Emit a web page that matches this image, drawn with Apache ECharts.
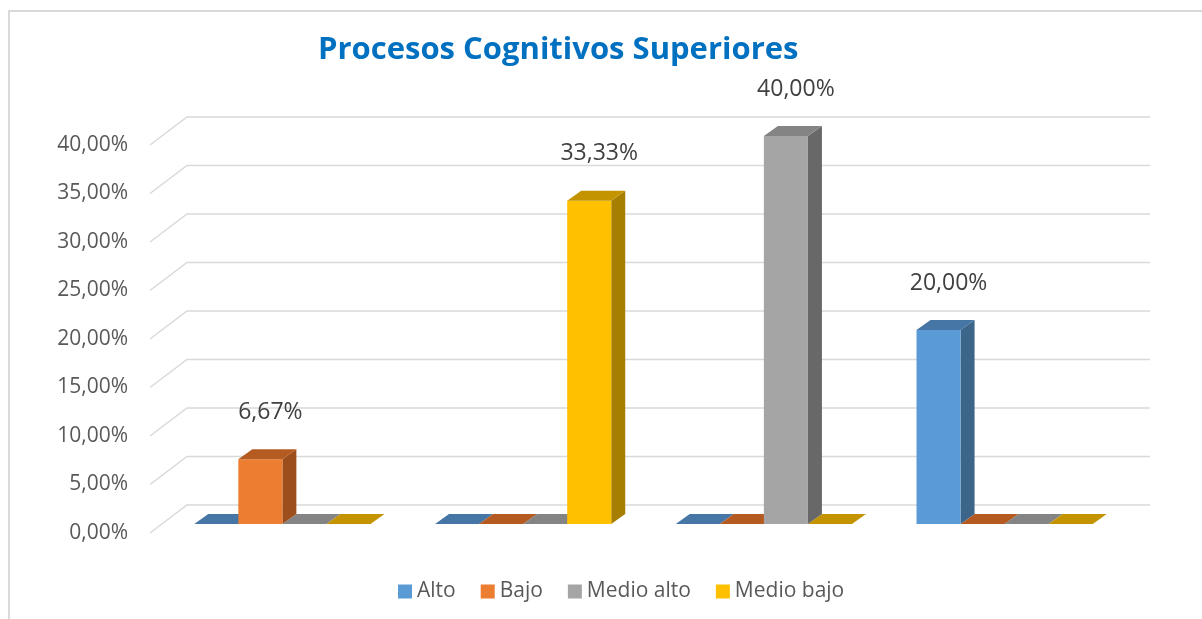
<!DOCTYPE html>
<html>
<head>
<meta charset="utf-8">
<script src="https://cdn.jsdelivr.net/npm/echarts@6/dist/echarts.min.js"></script>
<style>
    html, body { margin: 0; padding: 0; background: #fff; }
    #myChart { width: 1202px; height: 619px; }
</style>
</head>
<body>
<div id="myChart"></div>
<script>
    // datos (en %)
    var categories = ['Grupo 1', 'Grupo 2', 'Grupo 3', 'Grupo 4'];
    var levels = ['Alto', 'Bajo', 'Medio alto', 'Medio bajo'];
    var alto = [0, 0, 0, 20.00];
    var bajo = [6.67, 0, 0, 0];
    var medioAlto = [0, 0, 40.00, 0];
    var medioBajo = [0, 33.33, 0, 0];
    var yTicks = [0, 5, 10, 15, 20, 25, 30, 35, 40];

    var seriesValues = [alto, bajo, medioAlto, medioBajo];
    // frente, lado, tapa
    var palette = [
        ['#5B9BD5', '#3C6589', '#4676A5'],
        ['#ED7D31', '#9C4E1C', '#B55B21'],
        ['#A5A5A5', '#686868', '#848484'],
        ['#FFC000', '#A67F00', '#C49400']
    ];

    var FONT = '"Open Sans", sans-serif';
    var WALL_DX = 37, WALL_DY = -28;   // profundidad de la pared del fondo
    var PLANE_DX = 12, PLANE_DY = -9;  // plano de las barras
    var BAR_DX = 14, BAR_DY = -10;     // profundidad de cada barra

    function fmt(v) {
        return v.toFixed(2).replace('.', ',') + '%';
    }

    var myChart = echarts.init(document.getElementById('myChart'));

    function gridLines(params, api) {
        var cs = params.coordSys;
        var y = api.coord([0, api.value(1)])[1];
        return {
            type: 'polyline',
            z2: -10,
            shape: {
                points: [[cs.x, y], [cs.x + WALL_DX, y + WALL_DY], [cs.x + cs.width + WALL_DX, y + WALL_DY]]
            },
            style: { stroke: '#D9D9D9', lineWidth: 1.5, fill: null }
        };
    }

    function makeBar(idx) {
        return function (params, api) {
            var cat = api.value(0), v = api.value(1);
            var base = api.coord([cat, 0]);
            var top = api.coord([cat, v]);
            var band = api.size([1, 0])[0];
            var w = band * 0.183;
            var x0 = base[0] + (idx - 2) * w + PLANE_DX;
            var yb = base[1] + PLANE_DY;
            var yt = top[1] + PLANE_DY;
            var c = palette[idx];
            var children = [];
            if (v > 0) {
                children.push({
                    type: 'polygon', z2: 10,
                    shape: { points: [[x0 + w, yb], [x0 + w + BAR_DX, yb + BAR_DY], [x0 + w + BAR_DX, yt + BAR_DY], [x0 + w, yt]] },
                    style: { fill: c[1] }
                });
                children.push({
                    type: 'rect', z2: 11,
                    shape: { x: x0, y: yt, width: w, height: yb - yt },
                    style: { fill: c[0] }
                });
                children.push({
                    type: 'polygon', z2: 11,
                    shape: { points: [[x0, yt], [x0 + BAR_DX, yt + BAR_DY], [x0 + w + BAR_DX, yt + BAR_DY], [x0 + w, yt]] },
                    style: { fill: c[2] }
                });
                children.push({
                    type: 'text', z2: 12,
                    style: {
                        text: fmt(v), x: x0 + w / 2 + 10, y: yt - 47,
                        align: 'center', verticalAlign: 'middle',
                        fill: '#404040', font: '23px ' + FONT
                    }
                });
            } else {
                children.push({
                    type: 'polygon', z2: 1,
                    shape: { points: [[x0, yb], [x0 + BAR_DX, yb + BAR_DY], [x0 + w + BAR_DX, yb + BAR_DY], [x0 + w, yb]] },
                    style: { fill: c[2] }
                });
            }
            return { type: 'group', children: children };
        };
    }

    var series = [{
        name: 'lineas',
        type: 'custom',
        silent: true,
        renderItem: gridLines,
        encode: { x: 0, y: 1 },
        data: yTicks.map(function (t) { return [0, t]; })
    }];
    levels.forEach(function (name, i) {
        series.push({
            name: name,
            type: 'custom',
            renderItem: makeBar(i),
            itemStyle: { color: palette[i][0] },
            encode: { x: 0, y: 1 },
            data: seriesValues[i].map(function (v, j) { return [j, v]; })
        });
    });

    myChart.setOption({
        animation: false,
        title: {
            text: 'Procesos Cognitivos Superiores',
            left: 313,
            top: 30,
            textStyle: { color: '#0070C0', fontSize: 31, fontWeight: 'bold', fontFamily: FONT }
        },
        legend: {
            data: levels,
            left: 393,
            top: 576,
            icon: 'rect',
            itemWidth: 14,
            itemHeight: 14,
            itemGap: 25,
            textStyle: { color: '#595959', fontSize: 21, fontFamily: FONT }
        },
        grid: { left: 150, right: 89, top: 145, bottom: 86 },
        xAxis: {
            type: 'category',
            data: categories,
            axisLine: { show: false },
            axisTick: { show: false },
            axisLabel: { show: false }
        },
        yAxis: {
            type: 'value',
            min: 0,
            max: 40,
            interval: 5,
            axisLine: { show: false },
            axisTick: { show: false },
            splitLine: { show: false },
            axisLabel: {
                margin: 22,
                color: '#595959',
                fontSize: 21,
                fontFamily: FONT,
                formatter: fmt
            }
        },
        graphic: [{
            type: 'polyline',
            silent: true,
            shape: { points: [[9, 619], [9, 11], [1202, 11]] },
            style: { stroke: '#D9D9D9', lineWidth: 2, fill: null }
        }],
        series: series
    });
</script>
</body>
</html>
